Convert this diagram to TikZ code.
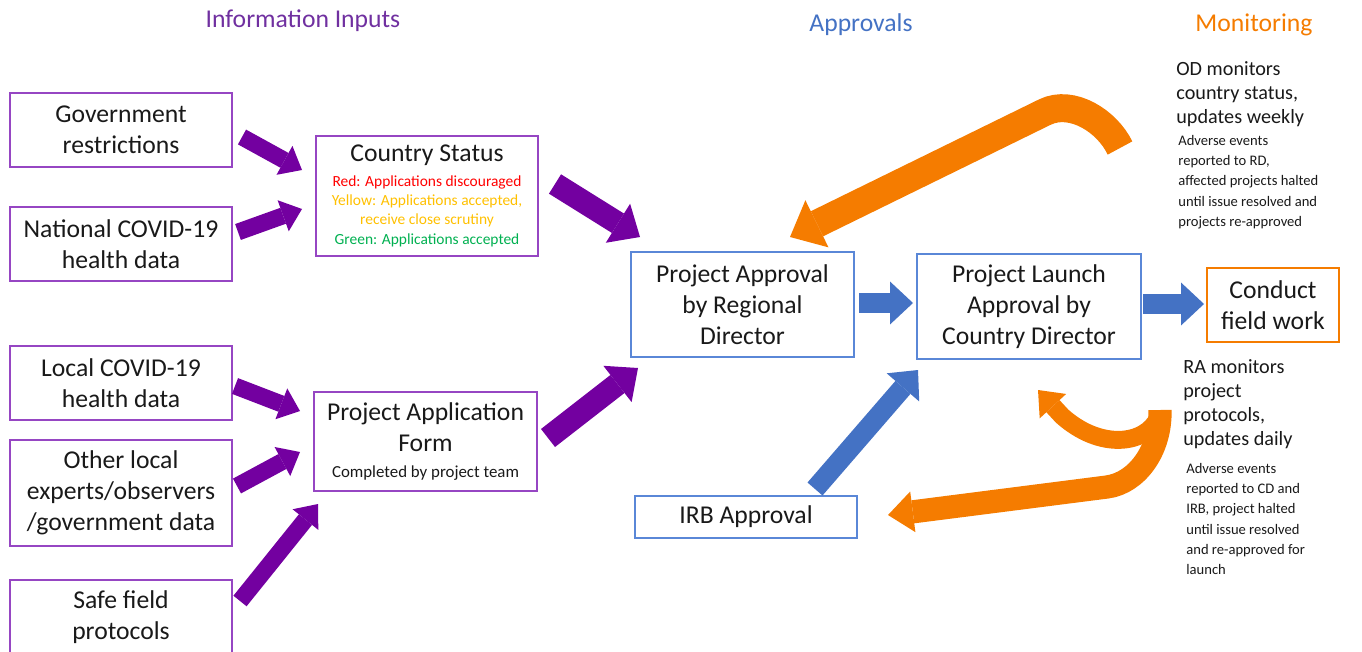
\documentclass[tikz,border=0pt]{standalone}
\usepackage{fontspec}
\setmainfont{Carlito}
\usetikzlibrary{arrows.meta}

\definecolor{inpurple}{RGB}{112,48,160}
\definecolor{arrpurple}{RGB}{115,0,160}
\definecolor{boxpurple}{RGB}{150,70,195}
\definecolor{apblue}{RGB}{68,114,196}
\definecolor{boxblue}{RGB}{90,135,215}
\definecolor{monorange}{RGB}{245,124,0}
\definecolor{txtgray}{RGB}{25,25,25}
\definecolor{csred}{RGB}{255,0,0}
\definecolor{csyellow}{RGB}{255,192,0}
\definecolor{csgreen}{RGB}{0,176,80}

\newcommand\bigtxt{\fontsize{14.6}{17.5}\selectfont}
\newcommand\midtxt{\fontsize{11.5}{13.6}\selectfont}
\newcommand\smtxt{\fontsize{8.3}{11.6}\selectfont}
\newcommand\cstxt{\fontsize{8.8}{10.8}\selectfont}

\begin{document}
\begin{tikzpicture}[x=0.02cm, y=-0.02cm,
	inbox/.style={draw=boxpurple, line width=0.8pt, align=center, inner sep=0pt, text=txtgray, font=\bigtxt, minimum width=4.44cm, minimum height=1.48cm},
	apbox/.style={draw=boxblue, line width=0.8pt, align=center, inner sep=0pt, text=txtgray, font=\bigtxt, minimum width=4.46cm, minimum height=2.1cm},
	fwbox/.style={draw=monorange, line width=0.8pt, align=center, inner sep=0pt, text=txtgray, font=\bigtxt, minimum width=2.64cm, minimum height=1.48cm},
	note/.style={align=left, anchor=west, inner sep=0pt, text=txtgray},
	parrow/.style={arrpurple, line width=9.6pt, -{Triangle[width=0.66cm, length=0.4cm, line width=0pt]}},
	pbig/.style={arrpurple, line width=13pt, -{Triangle[width=0.92cm, length=0.52cm, line width=0pt]}},
	barrow/.style={apblue, line width=11.3pt, -{Triangle[width=0.86cm, length=0.46cm, line width=0pt]}}]
	\useasboundingbox (0,0) rectangle (1362,652);
	% headings
	\node[font=\bigtxt, text=inpurple] (hin) at (303,21) {Information Inputs};
	\node[font=\bigtxt, text=apblue] (hap) at (861,25) {Approvals};
	\node[font=\bigtxt, text=monorange] (hmon) at (1254,25) {Monitoring};
	% inputs
	\node[inbox] (gov) at (121,130) {Government\\restrictions}; % gov 
	\node[inbox] (nat) at (121,244) {National COVID-19\\health data}; % nat 
	\node[inbox] (loc) at (121,383) {Local COVID-19\\health data}; % loc 
	\node[inbox, minimum height=2.12cm] (oth) at (121,493) {Other local\\experts/observers\\/government data}; % oth 
	\node[inbox] (safe) at (121,617) {Safe field\\protocols}; % safe 
	\node[inbox, font=\cstxt, minimum height=2.4cm] (cs) at (427,196) {{\bigtxt Country Status}\\[3.4pt]
		\textcolor{csred}{Red: Applications discouraged}\\
		\textcolor{csyellow}{Yellow: Applications accepted,}\\
		\textcolor{csyellow}{receive close scrutiny}\\[1pt]
		\textcolor{csgreen}{Green: Applications accepted}}; % cs 
	\node[inbox, minimum width=4.46cm, minimum height=1.98cm] (form) at (425.5,441.5) {Project Application\\Form\\[-3pt]
		{\fontsize{9.6}{11}\selectfont Completed by project team}}; % form 
	% approvals
	\node[apbox] (rd) at (742.5,304.5) {Project Approval\\by Regional\\Director}; % rd 
	\node[apbox, minimum width=4.48cm] (cd) at (1029,306.5) {Project Launch\\Approval by\\Country Director}; % cd 
	\node[apbox, minimum width=4.44cm, minimum height=0.84cm] (irb) at (746,517) {IRB Approval}; % irb 
	\node[fwbox] (fw) at (1273,305) {Conduct\\field work}; % fw 
	% monitoring notes
	\node[note, font=\midtxt] (od) at (1176,94) {OD monitors\\country status,\\updates weekly}; % od 
	\node[note, font=\smtxt] (odae) at (1178,182) {Adverse events\\reported to RD,\\affected projects halted\\until issue resolved and\\projects re-approved}; % odae 
	\node[note, font=\midtxt] (ra) at (1183,404) {RA monitors\\project\\protocols,\\updates daily}; % ra 
	\node[note, font=\smtxt] (raae) at (1186,519) {Adverse events\\reported to CD and\\IRB, project halted\\until issue resolved\\and re-approved for\\launch}; % raae 
	% arrow ends
	\coordinate (gov-o) at (242,137); \coordinate (cs-i1) at (302,170);
	\coordinate (nat-o) at (238,232); \coordinate (cs-i2) at (302,209);
	\coordinate (loc-o) at (235,386); \coordinate (form-i1) at (300,411);
	\coordinate (oth-o) at (237,486); \coordinate (form-i2) at (300,452);
	\coordinate (safe-o) at (240,601); \coordinate (form-i3) at (318,504);
	\coordinate (cs-o) at (555,184); \coordinate (rd-i1) at (640,237);
	\coordinate (form-o) at (548,438); \coordinate (rd-i2) at (638,368);
	\coordinate (rd-o) at (859,303); \coordinate (cd-i1) at (913,303);
	\coordinate (cd-o) at (1143,304); \coordinate (fw-i) at (1204,304);
	\coordinate (irb-o) at (815,489); \coordinate (cd-i2) at (918,370);
	\coordinate (od-o) at (1120,148); \coordinate (rd-i3) at (790,237);
	\coordinate (ra-o1) at (1158,418); \coordinate (cd-i3) at (1038,390);
	\coordinate (ra-o2) at (1160,410); \coordinate (irb-i) at (888,515);
	% input arrows
	\draw[parrow] (gov-o) -- (cs-i1);
	\draw[parrow] (nat-o) -- (cs-i2);
	\draw[parrow] (loc-o) -- (form-i1);
	\draw[parrow] (oth-o) -- (form-i2);
	\draw[parrow] (safe-o) -- (form-i3);
	\draw[pbig] (cs-o) -- (rd-i1);
	\draw[pbig] (form-o) -- (rd-i2);
	% approval arrows
	\draw[barrow] (rd-o) -- (cd-i1);
	\draw[barrow] (cd-o) -- (fw-i);
	\draw[barrow] (irb-o) -- (cd-i2);
	% monitoring arrows
	\draw[monorange, line width=15.9pt, -{Triangle[width=1.05cm, length=0.6cm, line width=0pt]}] (od-o) .. controls (1107,121) and (1072,99) .. (1045,112) -- (rd-i3);
	\draw[monorange, line width=10.2pt, -{Triangle[width=0.72cm, length=0.44cm, line width=0pt]}] (ra-o1) .. controls (1145,445) and (1100,450) .. (1062,416) -- (cd-i3);
	\draw[monorange, line width=13.2pt, -{Triangle[width=0.82cm, length=0.5cm, line width=0pt]}] (ra-o2) .. controls (1161,450) and (1137,483) .. (1107,487) -- (irb-i);
\end{tikzpicture}
\end{document}
